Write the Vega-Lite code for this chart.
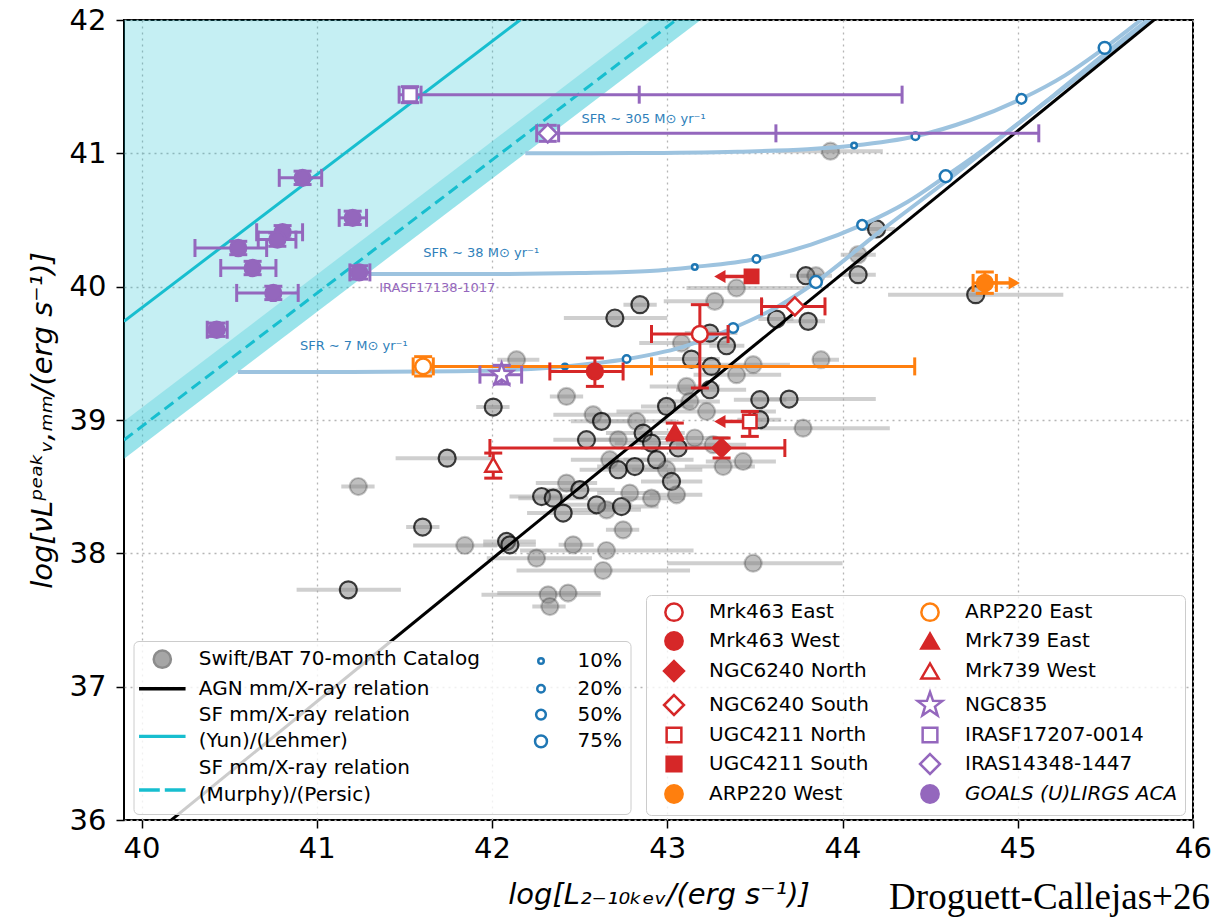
{
"$schema":"https://vega.github.io/schema/vega-lite/v6.json",
"width":1069,"height":800,
"autosize":{"type":"none"},
"padding":{"left":124,"top":20,"right":24,"bottom":97},
"background":"white",
"title":{"text":"Droguett-Callejas+26","orient":"bottom","anchor":"end","frame":"group","font":"Liberation Serif","fontSize":37,"fontWeight":"normal","color":"black","offset":-29,"dx":17},
"datasets":{
"grey":[
{"x":44.089,"y":40.24,"lo":43.99,"hi":44.19,"e":0},
{"x":44.089,"y":40.09,"lo":43.99,"hi":44.19,"e":1},
{"x":43.791,"y":40.082,"lo":43.7,"hi":43.88,"e":1},
{"x":43.848,"y":40.082,"lo":43.76,"hi":43.94,"e":0},
{"x":43.395,"y":39.99,"lo":43.11,"hi":43.79,"e":0},
{"x":43.271,"y":39.89,"lo":42.98,"hi":43.55,"e":0},
{"x":42.844,"y":39.865,"lo":42.75,"hi":42.94,"e":1},
{"x":42.701,"y":39.765,"lo":42.41,"hi":43.0,"e":1},
{"x":43.623,"y":39.757,"lo":43.52,"hi":43.72,"e":1},
{"x":43.804,"y":39.74,"lo":43.68,"hi":43.9,"e":1},
{"x":43.243,"y":39.652,"lo":43.1,"hi":43.4,"e":1},
{"x":43.338,"y":39.557,"lo":43.24,"hi":43.44,"e":1},
{"x":43.081,"y":39.577,"lo":42.84,"hi":43.35,"e":0},
{"x":43.138,"y":39.457,"lo":42.95,"hi":43.3,"e":1},
{"x":43.252,"y":39.402,"lo":43.1,"hi":43.45,"e":1},
{"x":43.395,"y":39.34,"lo":43.15,"hi":43.65,"e":0},
{"x":43.49,"y":39.415,"lo":43.3,"hi":43.7,"e":0},
{"x":43.877,"y":39.452,"lo":43.83,"hi":43.98,"e":0},
{"x":43.11,"y":39.252,"lo":42.9,"hi":43.3,"e":0},
{"x":43.243,"y":39.227,"lo":43.05,"hi":43.45,"e":1},
{"x":43.528,"y":39.152,"lo":43.38,"hi":43.68,"e":1},
{"x":43.695,"y":39.157,"lo":43.49,"hi":44.19,"e":1},
{"x":42.996,"y":39.102,"lo":42.85,"hi":43.15,"e":1},
{"x":43.129,"y":39.139,"lo":42.95,"hi":43.3,"e":0},
{"x":43.224,"y":39.064,"lo":42.71,"hi":43.62,"e":0},
{"x":43.528,"y":39.002,"lo":43.4,"hi":43.65,"e":1},
{"x":43.775,"y":38.939,"lo":43.53,"hi":44.27,"e":0},
{"x":42.577,"y":39.04,"lo":42.35,"hi":42.8,"e":0},
{"x":42.625,"y":38.99,"lo":42.45,"hi":42.8,"e":1},
{"x":42.825,"y":38.99,"lo":42.6,"hi":43.05,"e":0},
{"x":42.539,"y":38.852,"lo":42.35,"hi":42.75,"e":1},
{"x":42.72,"y":38.852,"lo":42.5,"hi":42.95,"e":0},
{"x":42.862,"y":38.902,"lo":42.65,"hi":43.1,"e":1},
{"x":42.91,"y":38.827,"lo":42.7,"hi":43.1,"e":1},
{"x":43.157,"y":38.865,"lo":42.95,"hi":43.35,"e":0},
{"x":43.062,"y":38.79,"lo":42.85,"hi":43.25,"e":1},
{"x":43.262,"y":38.815,"lo":43.05,"hi":43.45,"e":0},
{"x":42.672,"y":38.702,"lo":42.45,"hi":42.9,"e":0},
{"x":42.72,"y":38.627,"lo":42.5,"hi":42.95,"e":1},
{"x":42.815,"y":38.651,"lo":42.6,"hi":43.0,"e":1},
{"x":42.939,"y":38.702,"lo":42.75,"hi":43.15,"e":1},
{"x":42.996,"y":38.627,"lo":42.8,"hi":43.2,"e":0},
{"x":43.319,"y":38.651,"lo":43.1,"hi":43.5,"e":0},
{"x":43.433,"y":38.689,"lo":43.22,"hi":43.62,"e":0},
{"x":43.024,"y":38.539,"lo":42.85,"hi":43.2,"e":1},
{"x":42.425,"y":38.527,"lo":42.25,"hi":42.6,"e":0},
{"x":42.283,"y":38.426,"lo":42.1,"hi":42.45,"e":1},
{"x":42.349,"y":38.414,"lo":42.15,"hi":42.55,"e":1},
{"x":42.501,"y":38.477,"lo":42.3,"hi":42.7,"e":1},
{"x":42.597,"y":38.364,"lo":42.4,"hi":42.8,"e":1},
{"x":42.654,"y":38.326,"lo":42.45,"hi":42.85,"e":0},
{"x":42.739,"y":38.351,"lo":42.55,"hi":42.95,"e":1},
{"x":42.786,"y":38.452,"lo":42.6,"hi":42.95,"e":0},
{"x":42.91,"y":38.414,"lo":42.75,"hi":43.1,"e":0},
{"x":43.053,"y":38.439,"lo":42.9,"hi":43.2,"e":0},
{"x":42.406,"y":38.302,"lo":42.2,"hi":42.6,"e":1},
{"x":42.748,"y":38.176,"lo":42.65,"hi":42.84,"e":0},
{"x":42.425,"y":39.177,"lo":42.33,"hi":42.52,"e":0},
{"x":42.14,"y":39.452,"lo":42.03,"hi":42.27,"e":0},
{"x":42.007,"y":39.097,"lo":41.91,"hi":42.1,"e":1},
{"x":41.744,"y":38.714,"lo":41.45,"hi":42.01,"e":1},
{"x":41.237,"y":38.501,"lo":41.14,"hi":41.33,"e":0},
{"x":41.604,"y":38.197,"lo":41.51,"hi":41.7,"e":1},
{"x":41.845,"y":38.059,"lo":41.55,"hi":42.03,"e":0},
{"x":42.083,"y":38.089,"lo":41.95,"hi":42.25,"e":1},
{"x":42.102,"y":38.064,"lo":41.95,"hi":42.25,"e":1},
{"x":42.254,"y":37.964,"lo":41.97,"hi":42.57,"e":0},
{"x":41.18,"y":37.726,"lo":40.885,"hi":41.48,"e":1},
{"x":42.463,"y":38.064,"lo":42.38,"hi":42.58,"e":0},
{"x":42.653,"y":38.021,"lo":42.16,"hi":43.15,"e":0},
{"x":42.634,"y":37.871,"lo":42.14,"hi":43.13,"e":0},
{"x":42.32,"y":37.689,"lo":41.94,"hi":42.62,"e":0},
{"x":42.434,"y":37.702,"lo":42.03,"hi":42.62,"e":0},
{"x":42.33,"y":37.601,"lo":42.23,"hi":42.42,"e":0},
{"x":43.49,"y":37.926,"lo":43.0,"hi":44.0,"e":0},
{"x":43.931,"y":41.016,"lo":43.62,"hi":44.23,"e":0},
{"x":44.194,"y":40.433,"lo":44.1,"hi":44.3,"e":1},
{"x":44.76,"y":39.94,"lo":44.26,"hi":45.26,"e":1}
],
"curves":[
{"s":"7","x":40.55,"y":39.36},{"s":"7","x":41.2,"y":39.36},{"s":"7","x":41.8,"y":39.365},{"s":"7","x":42.15,"y":39.378},{"s":"7","x":42.416,"y":39.402},{"s":"7","x":42.768,"y":39.457},{"s":"7","x":43.08,"y":39.545},{"s":"7","x":43.376,"y":39.69},{"s":"7","x":43.63,"y":39.85},{"s":"7","x":43.848,"y":40.035},{"s":"7","x":44.2,"y":40.4},{"s":"7","x":44.6,"y":40.8},{"s":"7","x":45.0,"y":41.22},{"s":"7","x":45.4,"y":41.63},{"s":"7","x":45.8,"y":42.05},
{"s":"38","x":41.29,"y":40.095},{"s":"38","x":41.9,"y":40.095},{"s":"38","x":42.5,"y":40.103},{"s":"38","x":42.9,"y":40.118},{"s":"38","x":43.157,"y":40.148},{"s":"38","x":43.509,"y":40.208},{"s":"38","x":43.82,"y":40.315},{"s":"38","x":44.112,"y":40.463},{"s":"38","x":44.37,"y":40.635},{"s":"38","x":44.589,"y":40.828},{"s":"38","x":44.9,"y":41.12},{"s":"38","x":45.2,"y":41.43},{"s":"38","x":45.5,"y":41.75},{"s":"38","x":45.8,"y":42.06},
{"s":"305","x":42.19,"y":41.0},{"s":"305","x":42.8,"y":41.002},{"s":"305","x":43.4,"y":41.012},{"s":"305","x":43.8,"y":41.03},{"s":"305","x":44.066,"y":41.058},{"s":"305","x":44.416,"y":41.128},{"s":"305","x":44.73,"y":41.25},{"s":"305","x":45.021,"y":41.409},{"s":"305","x":45.27,"y":41.585},{"s":"305","x":45.496,"y":41.791},{"s":"305","x":45.75,"y":42.05}
],
"pct":[
{"pct":"10%","x":42.416,"y":39.402},{"pct":"20%","x":42.768,"y":39.457},{"pct":"50%","x":43.376,"y":39.69},{"pct":"75%","x":43.848,"y":40.035},
{"pct":"10%","x":43.157,"y":40.148},{"pct":"20%","x":43.509,"y":40.208},{"pct":"50%","x":44.112,"y":40.463},{"pct":"75%","x":44.589,"y":40.828},
{"pct":"10%","x":44.066,"y":41.058},{"pct":"20%","x":44.416,"y":41.128},{"pct":"50%","x":45.021,"y":41.409},{"pct":"75%","x":45.496,"y":41.791}
],
"src":[
{"name":"Mrk463 East","grp":"red","x":43.186,"y":39.645,"xlo":42.91,"xhi":43.347,"ylo":39.24,"yhi":39.865},
{"name":"Mrk463 West","grp":"red","x":42.587,"y":39.364,"xlo":42.33,"xhi":42.748,"ylo":39.252,"yhi":39.465},
{"name":"NGC6240 North","grp":"red","x":43.31,"y":38.79,"xlo":41.988,"xhi":43.671,"ylo":38.715,"yhi":38.865},
{"name":"NGC6240 South","grp":"red","x":43.728,"y":39.852,"xlo":43.538,"xhi":43.9},
{"name":"UGC4211 North","grp":"red","x":43.471,"y":38.989,"ylo":38.877,"yhi":39.064,"xarr":43.3,"adir":"left"},
{"name":"UGC4211 South","grp":"red","x":43.481,"y":40.077,"xarr":43.3,"adir":"left"},
{"name":"Mrk739 East","grp":"red","x":43.043,"y":38.914,"ylo":38.85,"yhi":38.977},
{"name":"Mrk739 West","grp":"red","x":42.007,"y":38.664,"ylo":38.564,"yhi":38.752},
{"name":"ARP220 East","grp":"orange","x":41.607,"y":39.402,"xlo":41.55,"xc":41.665,"xmid":42.91,"xhi":44.412,"ylo":39.33,"yhi":39.475},
{"name":"ARP220 West","grp":"orange","x":44.812,"y":40.028,"xlo":44.745,"xhi":44.878,"ylo":39.95,"yhi":40.11,"xarr":44.98,"adir":"right"},
{"name":"NGC835","grp":"purple","x":42.055,"y":39.34,"xlo":41.931,"xhi":42.169,"ylo":39.27,"yhi":39.41},
{"name":"IRASF17207-0014","grp":"purple","x":41.532,"y":41.44,"xlo":41.47,"xc":41.595,"xmid":42.84,"xhi":44.34,"ylo":41.38,"yhi":41.5},
{"name":"IRAS14348-1447","grp":"purple","x":42.318,"y":41.15,"xlo":42.255,"xc":42.38,"xmid":43.62,"xhi":45.12,"ylo":41.09,"yhi":41.21},
{"name":"GOALS (U)LIRGS ACA","grp":"purple","x":40.919,"y":40.816,"xlo":40.786,"xhi":41.028,"ylo":40.766,"yhi":40.866},
{"name":"GOALS (U)LIRGS ACA","grp":"purple","x":41.205,"y":40.516,"xlo":41.128,"xhi":41.284,"ylo":40.466,"yhi":40.566},
{"name":"GOALS (U)LIRGS ACA","grp":"purple","x":40.805,"y":40.408,"xlo":40.657,"xhi":40.919,"ylo":40.358,"yhi":40.458},
{"name":"GOALS (U)LIRGS ACA","grp":"purple","x":40.775,"y":40.353,"xlo":40.666,"xhi":40.881,"ylo":40.303,"yhi":40.403},
{"name":"GOALS (U)LIRGS ACA","grp":"purple","x":40.552,"y":40.29,"xlo":40.305,"xhi":40.714,"ylo":40.24,"yhi":40.34},
{"name":"GOALS (U)LIRGS ACA","grp":"purple","x":40.634,"y":40.14,"xlo":40.452,"xhi":40.767,"ylo":40.09,"yhi":40.19},
{"name":"GOALS (U)LIRGS ACA","grp":"purple","x":40.752,"y":39.953,"xlo":40.543,"xhi":40.894,"ylo":39.903,"yhi":40.003},
{"name":"GOALS (U)LIRGS ACA","grp":"purple","x":41.242,"y":40.107,"xlo":41.189,"xhi":41.303,"ylo":40.057,"yhi":40.157},
{"name":"GOALS (U)LIRGS ACA","grp":"purple","x":40.429,"y":39.677,"xlo":40.375,"xhi":40.489,"ylo":39.627,"yhi":39.727}
],
"labels":[
{"t":"SFR ∼ 305 M⊙ yr⁻¹","x":42.51,"y":41.255,"k":"sfr"},
{"t":"SFR ∼ 38 M⊙ yr⁻¹","x":41.607,"y":40.253,"k":"sfr"},
{"t":"SFR ∼ 7 M⊙ yr⁻¹","x":40.904,"y":39.552,"k":"sfr"},
{"t":"IRASF17138-1017","x":41.356,"y":39.99,"k":"src"}
]
},
"layer":[
{"data":{"values":[{"x":39.9,"lo":38.71,"hi":42},{"x":43.19,"lo":42,"hi":42}]},
 "mark":{"type":"area","color":"#17becf","opacity":0.25,"clip":true},
 "encoding":{"x":{"field":"x","type":"quantitative","scale":{"domain":[39.9,46],"nice":false,"zero":false},"axis":{"title":"log[L₂₋₁₀ₖₑᵥ/(erg s⁻¹)]","values":[40,41,42,43,44,45,46]}},
  "y":{"field":"lo","type":"quantitative","scale":{"domain":[36,42],"nice":false,"zero":false},"axis":{"title":"log[νLᵖᵉᵃᵏᵥ,ₘₘ/(erg s⁻¹)]","values":[36,37,38,39,40,41,42]}},
  "y2":{"field":"hi"}}},
{"data":{"values":[{"x":39.9,"lo":38.71,"hi":38.99},{"x":43.3,"lo":42.11,"hi":42.39}]},
 "mark":{"type":"area","color":"#17becf","opacity":0.25,"clip":true},
 "encoding":{"x":{"field":"x","type":"quantitative","scale":{"domain":[39.9,46],"nice":false,"zero":false},"axis":{"title":"log[L₂₋₁₀ₖₑᵥ/(erg s⁻¹)]","values":[40,41,42,43,44,45,46]}},
  "y":{"field":"lo","type":"quantitative","scale":{"domain":[36,42],"nice":false,"zero":false},"axis":{"title":"log[νLᵖᵉᵃᵏᵥ,ₘₘ/(erg s⁻¹)]","values":[36,37,38,39,40,41,42]}},
  "y2":{"field":"hi"}}},
{"data":{"values":[{"x":39.9,"y":39.74},{"x":42.16,"y":42.0}]},
 "mark":{"type":"line","color":"#17becf","strokeWidth":3,"clip":true},
 "encoding":{"x":{"field":"x","type":"quantitative","scale":{"domain":[39.9,46],"nice":false,"zero":false},"axis":{"title":"log[L₂₋₁₀ₖₑᵥ/(erg s⁻¹)]","values":[40,41,42,43,44,45,46]}},
  "y":{"field":"y","type":"quantitative","scale":{"domain":[36,42],"nice":false,"zero":false},"axis":{"title":"log[νLᵖᵉᵃᵏᵥ,ₘₘ/(erg s⁻¹)]","values":[36,37,38,39,40,41,42]}}}},
{"data":{"values":[{"x":39.9,"y":38.85},{"x":43.05,"y":42.0}]},
 "mark":{"type":"line","color":"#17becf","strokeWidth":3,"strokeDash":[11,6],"clip":true},
 "encoding":{"x":{"field":"x","type":"quantitative","scale":{"domain":[39.9,46],"nice":false,"zero":false},"axis":{"title":"log[L₂₋₁₀ₖₑᵥ/(erg s⁻¹)]","values":[40,41,42,43,44,45,46]}},
  "y":{"field":"y","type":"quantitative","scale":{"domain":[36,42],"nice":false,"zero":false},"axis":{"title":"log[νLᵖᵉᵃᵏᵥ,ₘₘ/(erg s⁻¹)]","values":[36,37,38,39,40,41,42]}}}},
{"data":{"name":"grey"},
 "mark":{"type":"rule","color":"#a8a8a8","opacity":0.55,"strokeWidth":4,"clip":true},
 "encoding":{"x":{"field":"lo","type":"quantitative","scale":{"domain":[39.9,46],"nice":false,"zero":false},"axis":{"title":"log[L₂₋₁₀ₖₑᵥ/(erg s⁻¹)]","values":[40,41,42,43,44,45,46]}},
  "x2":{"field":"hi"},
  "y":{"field":"y","type":"quantitative","scale":{"domain":[36,42],"nice":false,"zero":false},"axis":{"title":"log[νLᵖᵉᵃᵏᵥ,ₘₘ/(erg s⁻¹)]","values":[36,37,38,39,40,41,42]}}}},
{"data":{"name":"grey"},
 "mark":{"type":"point","shape":"circle","size":290,"fill":"#808080","fillOpacity":0.5,"stroke":"black","strokeWidth":2.2,"opacity":1,"clip":true},
 "encoding":{"x":{"field":"x","type":"quantitative","scale":{"domain":[39.9,46],"nice":false,"zero":false},"axis":{"title":"log[L₂₋₁₀ₖₑᵥ/(erg s⁻¹)]","values":[40,41,42,43,44,45,46]}},
  "y":{"field":"y","type":"quantitative","scale":{"domain":[36,42],"nice":false,"zero":false},"axis":{"title":"log[νLᵖᵉᵃᵏᵥ,ₘₘ/(erg s⁻¹)]","values":[36,37,38,39,40,41,42]}},
  "strokeOpacity":{"field":"e","type":"quantitative","scale":{"domain":[0,1],"range":[0.22,0.75]},"legend":null}}},
{"data":{"name":"curves"},
 "mark":{"type":"line","color":"#9dc3df","strokeWidth":4,"interpolate":"monotone","clip":true},
 "encoding":{"x":{"field":"x","type":"quantitative","scale":{"domain":[39.9,46],"nice":false,"zero":false},"axis":{"title":"log[L₂₋₁₀ₖₑᵥ/(erg s⁻¹)]","values":[40,41,42,43,44,45,46]}},
  "y":{"field":"y","type":"quantitative","scale":{"domain":[36,42],"nice":false,"zero":false},"axis":{"title":"log[νLᵖᵉᵃᵏᵥ,ₘₘ/(erg s⁻¹)]","values":[36,37,38,39,40,41,42]}},
  "detail":{"field":"s","type":"nominal"}}},
{"data":{"values":[{"x":40.1,"y":35.925},{"x":45.85,"y":42.078}]},
 "mark":{"type":"line","color":"black","strokeWidth":3,"clip":true},
 "encoding":{"x":{"field":"x","type":"quantitative","scale":{"domain":[39.9,46],"nice":false,"zero":false},"axis":{"title":"log[L₂₋₁₀ₖₑᵥ/(erg s⁻¹)]","values":[40,41,42,43,44,45,46]}},
  "y":{"field":"y","type":"quantitative","scale":{"domain":[36,42],"nice":false,"zero":false},"axis":{"title":"log[νLᵖᵉᵃᵏᵥ,ₘₘ/(erg s⁻¹)]","values":[36,37,38,39,40,41,42]}}}},
{"data":{"name":"pct"},
 "mark":{"type":"point","size":100,"strokeWidth":2.5,"opacity":1,"clip":true},
 "encoding":{"x":{"field":"x","type":"quantitative","scale":{"domain":[39.9,46],"nice":false,"zero":false},"axis":{"title":"log[L₂₋₁₀ₖₑᵥ/(erg s⁻¹)]","values":[40,41,42,43,44,45,46]}},
  "y":{"field":"y","type":"quantitative","scale":{"domain":[36,42],"nice":false,"zero":false},"axis":{"title":"log[νLᵖᵉᵃᵏᵥ,ₘₘ/(erg s⁻¹)]","values":[36,37,38,39,40,41,42]}},
  "shape":{"field":"pct","type":"nominal","scale":{"domain":["Swift/BAT 70-month Catalog","AGN mm/X-ray relation","SF mm/X-ray relation","(Yun)/(Lehmer)","SF mm/X-ray relation ","(Murphy)/(Persic)","10%","20%","50%","75%","_1","_2"],
     "range":["M1.72,0A1.72,1.72,0,1,1,-1.72,0A1.72,1.72,0,1,1,1.72,0Z","M-4.4,-0.09H4.4V0.09H-4.4Z","M0,0Z","M-4.4,-1.09H4.4V-0.91H-4.4ZM0,1.09L0,1.09","M0,0Z","M-4.4,-1.09H-0.75V-0.91H-4.4ZM0.75,-1.09H4.4V-0.91H0.75ZM0,1.09L0,1.09","M0.55,0A0.55,0.55,0,1,1,-0.55,0A0.55,0.55,0,1,1,0.55,0Z","M0.75,0A0.75,0.75,0,1,1,-0.75,0A0.75,0.75,0,1,1,0.75,0Z","M0.97,0A0.97,0.97,0,1,1,-0.97,0A0.97,0.97,0,1,1,0.97,0Z","M1.19,0A1.19,1.19,0,1,1,-1.19,0A1.19,1.19,0,1,1,1.19,0Z","M0,0Z","M0,0Z"]},
     "legend":{"title":null,"orient":"none","legendX":9.5,"legendY":621,"columns":2,"direction":"vertical","padding":8,"rowPadding":5.8,"columnPadding":39.7,"symbolSize":100,"symbolOffset":10.8,"labelOffset":26.5,"symbolStrokeWidth":2.5,"labelExpr":"indexof(datum.label, '_') == 0 ? '' : datum.label","zindex":1}},
  "fill":{"field":"pct","type":"nominal","scale":{"domain":["Swift/BAT 70-month Catalog","AGN mm/X-ray relation","SF mm/X-ray relation","(Yun)/(Lehmer)","SF mm/X-ray relation ","(Murphy)/(Persic)","10%","20%","50%","75%","_1","_2"],"range":["#a6a6a6","black","transparent","#17becf","transparent","#17becf","white","white","white","white","transparent","transparent"]}},
  "stroke":{"field":"pct","type":"nominal","scale":{"domain":["Swift/BAT 70-month Catalog","AGN mm/X-ray relation","SF mm/X-ray relation","(Yun)/(Lehmer)","SF mm/X-ray relation ","(Murphy)/(Persic)","10%","20%","50%","75%","_1","_2"],"range":["#8c8c8c","black","transparent","#17becf","transparent","#17becf","#1f77b4","#1f77b4","#1f77b4","#1f77b4","transparent","transparent"]}}}},
{"data":{"name":"src"},
 "transform":[{"filter":"isValid(datum.xlo)"}],
 "mark":{"type":"rule","strokeWidth":3,"clip":true},
 "encoding":{"x":{"field":"xlo","type":"quantitative","scale":{"domain":[39.9,46],"nice":false,"zero":false},"axis":{"title":"log[L₂₋₁₀ₖₑᵥ/(erg s⁻¹)]","values":[40,41,42,43,44,45,46]}},
  "x2":{"field":"xhi"},
  "y":{"field":"y","type":"quantitative","scale":{"domain":[36,42],"nice":false,"zero":false},"axis":{"title":"log[νLᵖᵉᵃᵏᵥ,ₘₘ/(erg s⁻¹)]","values":[36,37,38,39,40,41,42]}},
  "color":{"field":"grp","type":"nominal","scale":{"domain":["red","orange","purple"],"range":["#d62728","#ff7f0e","#9467bd"]},"legend":null}}},
{"data":{"name":"src"},
 "transform":[{"fold":["xlo","xhi","xmid","xc"],"as":["k","v"]},{"filter":"isValid(datum.v)"}],
 "mark":{"type":"tick","orient":"vertical","size":18,"thickness":3,"opacity":1,"clip":true},
 "encoding":{"x":{"field":"v","type":"quantitative","scale":{"domain":[39.9,46],"nice":false,"zero":false},"axis":{"title":"log[L₂₋₁₀ₖₑᵥ/(erg s⁻¹)]","values":[40,41,42,43,44,45,46]}},
  "y":{"field":"y","type":"quantitative","scale":{"domain":[36,42],"nice":false,"zero":false},"axis":{"title":"log[νLᵖᵉᵃᵏᵥ,ₘₘ/(erg s⁻¹)]","values":[36,37,38,39,40,41,42]}},
  "color":{"field":"grp","type":"nominal","scale":{"domain":["red","orange","purple"],"range":["#d62728","#ff7f0e","#9467bd"]},"legend":null}}},
{"data":{"name":"src"},
 "transform":[{"filter":"isValid(datum.ylo)"}],
 "mark":{"type":"rule","strokeWidth":3,"clip":true},
 "encoding":{"x":{"field":"x","type":"quantitative","scale":{"domain":[39.9,46],"nice":false,"zero":false},"axis":{"title":"log[L₂₋₁₀ₖₑᵥ/(erg s⁻¹)]","values":[40,41,42,43,44,45,46]}},
  "y":{"field":"ylo","type":"quantitative","scale":{"domain":[36,42],"nice":false,"zero":false},"axis":{"title":"log[νLᵖᵉᵃᵏᵥ,ₘₘ/(erg s⁻¹)]","values":[36,37,38,39,40,41,42]}},
  "y2":{"field":"yhi"},
  "color":{"field":"grp","type":"nominal","scale":{"domain":["red","orange","purple"],"range":["#d62728","#ff7f0e","#9467bd"]},"legend":null}}},
{"data":{"name":"src"},
 "transform":[{"fold":["ylo","yhi"],"as":["k","v"]},{"filter":"isValid(datum.v)"}],
 "mark":{"type":"tick","orient":"horizontal","size":18,"thickness":3,"opacity":1,"clip":true},
 "encoding":{"x":{"field":"x","type":"quantitative","scale":{"domain":[39.9,46],"nice":false,"zero":false},"axis":{"title":"log[L₂₋₁₀ₖₑᵥ/(erg s⁻¹)]","values":[40,41,42,43,44,45,46]}},
  "y":{"field":"v","type":"quantitative","scale":{"domain":[36,42],"nice":false,"zero":false},"axis":{"title":"log[νLᵖᵉᵃᵏᵥ,ₘₘ/(erg s⁻¹)]","values":[36,37,38,39,40,41,42]}},
  "color":{"field":"grp","type":"nominal","scale":{"domain":["red","orange","purple"],"range":["#d62728","#ff7f0e","#9467bd"]},"legend":null}}},
{"data":{"name":"src"},
 "transform":[{"filter":"isValid(datum.xarr)"}],
 "mark":{"type":"rule","strokeWidth":3.5,"clip":true},
 "encoding":{"x":{"field":"x","type":"quantitative","scale":{"domain":[39.9,46],"nice":false,"zero":false},"axis":{"title":"log[L₂₋₁₀ₖₑᵥ/(erg s⁻¹)]","values":[40,41,42,43,44,45,46]}},
  "x2":{"field":"xarr"},
  "y":{"field":"y","type":"quantitative","scale":{"domain":[36,42],"nice":false,"zero":false},"axis":{"title":"log[νLᵖᵉᵃᵏᵥ,ₘₘ/(erg s⁻¹)]","values":[36,37,38,39,40,41,42]}},
  "color":{"field":"grp","type":"nominal","scale":{"domain":["red","orange","purple"],"range":["#d62728","#ff7f0e","#9467bd"]},"legend":null}}},
{"data":{"name":"src"},
 "transform":[{"filter":"isValid(datum.xarr)"}],
 "mark":{"type":"point","filled":true,"size":170,"opacity":1,"clip":true},
 "encoding":{"x":{"field":"xarr","type":"quantitative","scale":{"domain":[39.9,46],"nice":false,"zero":false},"axis":{"title":"log[L₂₋₁₀ₖₑᵥ/(erg s⁻¹)]","values":[40,41,42,43,44,45,46]}},
  "y":{"field":"y","type":"quantitative","scale":{"domain":[36,42],"nice":false,"zero":false},"axis":{"title":"log[νLᵖᵉᵃᵏᵥ,ₘₘ/(erg s⁻¹)]","values":[36,37,38,39,40,41,42]}},
  "shape":{"field":"adir","type":"nominal","scale":{"domain":["left","right"],"range":["triangle-left","triangle-right"]},"legend":null},
  "color":{"field":"grp","type":"nominal","scale":{"domain":["red","orange","purple"],"range":["#d62728","#ff7f0e","#9467bd"]},"legend":null}}},
{"data":{"name":"src"},
 "mark":{"type":"point","size":250,"strokeWidth":2.5,"opacity":1,"clip":true},
 "encoding":{"x":{"field":"x","type":"quantitative","scale":{"domain":[39.9,46],"nice":false,"zero":false},"axis":{"title":"log[L₂₋₁₀ₖₑᵥ/(erg s⁻¹)]","values":[40,41,42,43,44,45,46]}},
  "y":{"field":"y","type":"quantitative","scale":{"domain":[36,42],"nice":false,"zero":false},"axis":{"title":"log[νLᵖᵉᵃᵏᵥ,ₘₘ/(erg s⁻¹)]","values":[36,37,38,39,40,41,42]}},
  "shape":{"field":"name","type":"nominal","scale":{"domain":["Mrk463 East","Mrk463 West","NGC6240 North","NGC6240 South","UGC4211 North","UGC4211 South","ARP220 West","ARP220 East","Mrk739 East","Mrk739 West","NGC835","IRASF17207-0014","IRAS14348-1447","GOALS (U)LIRGS ACA"],
     "range":["circle","circle","M0,-1.15L1.15,0L0,1.15L-1.15,0Z","M0,-1.15L1.15,0L0,1.15L-1.15,0Z","M-0.85,-0.85H0.85V0.85H-0.85Z","M-0.85,-0.85H0.85V0.85H-0.85Z","circle","circle","triangle-up","triangle-up","M0,-1.5L0.353,-0.486L1.427,-0.464L0.571,0.185L0.882,1.214L0,0.6L-0.882,1.214L-0.571,0.185L-1.427,-0.464L-0.353,-0.486Z","M-0.85,-0.85H0.85V0.85H-0.85Z","M0,-1.15L1.15,0L0,1.15L-1.15,0Z","circle"]},
     "legend":{"title":null,"orient":"none","legendX":522,"legendY":575,"columns":2,"direction":"vertical","padding":7,"rowPadding":1,"columnPadding":40,"symbolSize":300,"symbolOffset":11,"labelOffset":25,"symbolStrokeWidth":2.5,"zindex":1,"labelFontStyle":{"expr":"datum.label === 'GOALS (U)LIRGS ACA' ? 'italic' : 'normal'"}}},
  "fill":{"field":"name","type":"nominal","scale":{"domain":["Mrk463 East","Mrk463 West","NGC6240 North","NGC6240 South","UGC4211 North","UGC4211 South","ARP220 West","ARP220 East","Mrk739 East","Mrk739 West","NGC835","IRASF17207-0014","IRAS14348-1447","GOALS (U)LIRGS ACA"],"range":["white","#d62728","#d62728","white","white","#d62728","#ff7f0e","white","#d62728","white","white","white","white","#9467bd"]}},
  "stroke":{"field":"name","type":"nominal","scale":{"domain":["Mrk463 East","Mrk463 West","NGC6240 North","NGC6240 South","UGC4211 North","UGC4211 South","ARP220 West","ARP220 East","Mrk739 East","Mrk739 West","NGC835","IRASF17207-0014","IRAS14348-1447","GOALS (U)LIRGS ACA"],"range":["#d62728","#d62728","#d62728","#d62728","#d62728","#d62728","#ff7f0e","#ff7f0e","#d62728","#d62728","#9467bd","#9467bd","#9467bd","#9467bd"]}}}},
{"data":{"name":"labels"},
 "mark":{"type":"text","align":"left","baseline":"middle","fontSize":13,"font":"DejaVu Sans"},
 "encoding":{"x":{"field":"x","type":"quantitative","scale":{"domain":[39.9,46],"nice":false,"zero":false},"axis":{"title":"log[L₂₋₁₀ₖₑᵥ/(erg s⁻¹)]","values":[40,41,42,43,44,45,46]}},
  "y":{"field":"y","type":"quantitative","scale":{"domain":[36,42],"nice":false,"zero":false},"axis":{"title":"log[νLᵖᵉᵃᵏᵥ,ₘₘ/(erg s⁻¹)]","values":[36,37,38,39,40,41,42]}},
  "text":{"field":"t","type":"nominal"},
  "color":{"field":"k","type":"nominal","scale":{"domain":["sfr","src"],"range":["#2f7fba","#9467bd"]},"legend":null}}}
],
"resolve":{"scale":{"shape":"independent","fill":"independent","stroke":"independent","color":"independent","strokeOpacity":"independent"}},
"config":{
 "font":"DejaVu Sans",
 "view":{"stroke":"black","strokeWidth":2},
 "axis":{"grid":true,"gridColor":"#b5b5b5","gridDash":[2,4],"gridWidth":1.3,"domain":false,"tickColor":"black","tickSize":8,"tickWidth":1.5,"labelFont":"DejaVu Sans","labelFontSize":29,"labelColor":"black","labelFlush":false,"labelOverlap":false,"titleFont":"DejaVu Sans","titleFontSize":29,"titleFontStyle":"italic","titleFontWeight":"normal","titleColor":"black"},
 "axisX":{"labelPadding":6,"titlePadding":17},
 "axisY":{"labelPadding":10,"titlePadding":12},
 "legend":{"labelFont":"DejaVu Sans","labelFontSize":20,"labelColor":"black","labelLimit":500,"fillColor":"rgba(255,255,255,0.8)","strokeColor":"#cccccc","cornerRadius":5}
}
}
